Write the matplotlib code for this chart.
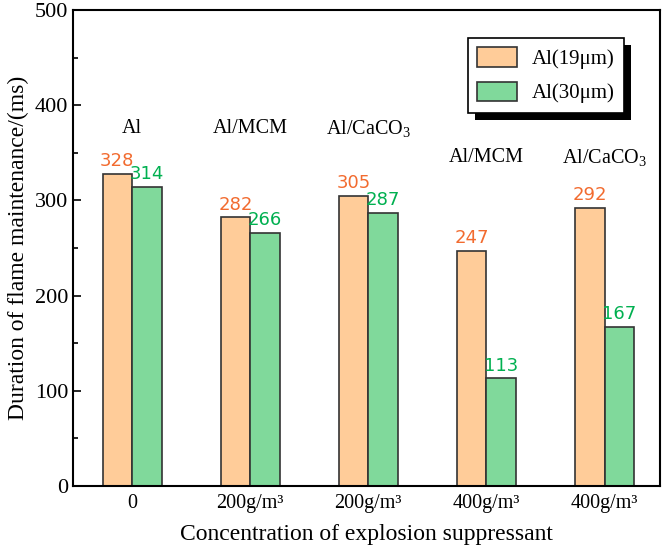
import matplotlib
matplotlib.use("Agg")
import matplotlib.pyplot as plt
import numpy as np
from matplotlib.patches import Rectangle
from matplotlib.transforms import IdentityTransform

categories = ["0", "200g/m³", "200g/m³", "400g/m³", "400g/m³"]
group_labels = ["Al", "Al/MCM", "Al/CaCO$_3$", "Al/MCM", "Al/CaCO$_3$"]
group_label_y = [375, 375, 375, 345, 345]
al19 = [328, 282, 305, 247, 292]
al30 = [314, 266, 287, 113, 167]
series_names = ["Al(19μm)", "Al(30μm)"]

plt.rcParams['font.family'] = ['Liberation Serif', 'DejaVu Serif']
plt.rcParams['mathtext.fontset'] = 'custom'
plt.rcParams['mathtext.rm'] = 'Liberation Serif'
plt.rcParams['mathtext.it'] = 'Liberation Serif:italic'

fig = plt.figure(figsize=(6.64, 5.51), dpi=100)
ax = fig.add_axes([0.110, 0.118, 0.884, 0.864])

x = np.arange(len(categories))
w = 0.25
c1, c2 = '#FFCC99', '#80D99B'
ax.bar(x - w/2, al19, w, color=c1, edgecolor='#333333', linewidth=1.2, label=series_names[0])
ax.bar(x + w/2, al30, w, color=c2, edgecolor='#333333', linewidth=1.2, label=series_names[1])

for xi, v in zip(x, al19):
    ax.text(xi - w/2, v + 4, str(v), ha='center', va='bottom', color='#F26B2F',
            fontsize=13, family='DejaVu Sans')
for xi, v in zip(x, al30):
    ax.text(xi + w/2, v + 4, str(v), ha='center', va='bottom', color='#00B050',
            fontsize=13, family='DejaVu Sans')
for xi, lab, yy in zip(x, group_labels, group_label_y):
    ax.text(xi, yy, lab, ha='center', va='center', fontsize=14.5)

ax.set_xlim(-0.5, 4.47)
ax.set_ylim(0, 500)
ax.set_xticks(x)
ax.set_xticklabels(categories, fontsize=14.5)
ax.set_yticks(np.arange(0, 501, 100))
ax.set_yticks(np.arange(50, 500, 100), minor=True)
ax.tick_params(axis='y', which='major', direction='in', length=6, width=1.2, labelsize=16)
ax.tick_params(axis='y', which='minor', direction='in', length=3.5, width=1.2)
ax.tick_params(axis='x', which='both', length=0, pad=6)
for s in ax.spines.values():
    s.set_linewidth(1.5)

ax.set_xlabel("Concentration of explosion suppressant", fontsize=17, labelpad=8)
ax.set_ylabel("Duration of flame maintenance/(ms)", fontsize=17, labelpad=4)

leg = ax.legend(loc='upper left', bbox_to_anchor=(0.673, 0.941), borderaxespad=0,
                fancybox=False, edgecolor='black', framealpha=1, fontsize=15,
                handlelength=1.9, handleheight=1.05, handletextpad=0.7,
                borderpad=0.45, labelspacing=0.6)
leg.get_frame().set_linewidth(1.2)
leg.set_zorder(6)
fig.canvas.draw()
bb = leg.get_frame().get_window_extent(fig.canvas.get_renderer())
shadow = Rectangle((bb.x0 + 7, bb.y0 - 7), bb.width, bb.height, facecolor='black',
                   edgecolor='none', transform=IdentityTransform(), zorder=5.5, clip_on=False)
ax.add_artist(shadow)

fig.savefig("out.png", dpi=100)
